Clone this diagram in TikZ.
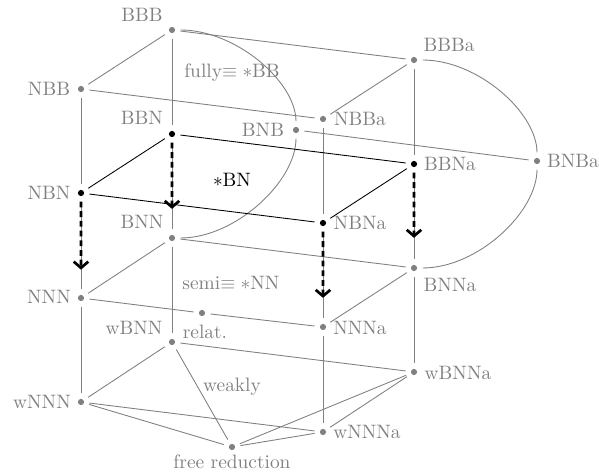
\documentclass[tikz,border=0pt]{standalone}
\usetikzlibrary{arrows.meta,calc}
\definecolor{soft}{gray}{0.5}
\begin{document}
\begin{tikzpicture}[x=0.5155pt,y=0.5155pt,
  dot/.style={circle,fill=soft,inner sep=0pt,minimum size=3.2pt,outer sep=2.8pt},
  bdot/.style={dot,fill=black},
  lbl/.style={text=soft,inner sep=0pt},
  blbl/.style={text=black,inner sep=0pt},
  gline/.style={draw=soft,line width=0.45pt},
  kline/.style={draw=black,line width=0.45pt},
  arcdown/.style={gline,out=0,in=90,out distance=28.5pt,in distance=20.5pt},
  arcback/.style={gline,out=-90,in=0,out distance=22pt,in distance=28.5pt},
  drop/.style={draw=black,line width=1.4pt,dash pattern=on 3pt off 2pt,
    -{Straight Barb[length=3.2pt,width=7.5pt]}}]
\useasboundingbox (0,0) rectangle (599,476);

% front cube
\node[dot]  (BBB)  at (172,446) {};
\node[dot]  (NBB)  at (81,387) {};
\node[bdot] (BBN)  at (172,342) {};
\node[dot]  (BNB)  at (296,346) {};
\node[bdot] (NBN)  at (81,283) {};
\node[dot]  (BNN)  at (172,238) {};
\node[dot]  (NNN)  at (81,178) {};
\node[dot]  (rel)  at (202,163) {};
\node[dot]  (wBNN) at (172,134) {};
\node[dot]  (wNNN) at (81,74) {};
\node[dot]  (free) at (232,29) {};
% shifted copy
\node[dot]  (BBBa)  at (414,416) {};
\node[dot]  (NBBa)  at (323,357) {};
\node[dot]  (BNBa)  at (537,315) {};
\node[bdot] (BBNa)  at (414,312) {};
\node[bdot] (NBNa)  at (323,253) {};
\node[dot]  (BNNa)  at (414,208) {};
\node[dot]  (NNNa)  at (323,149) {};
\node[dot]  (wBNNa) at (414,104) {};
\node[dot]  (wNNNa) at (323,44) {};

% labels
\node[lbl] (tBBB)  at (142,461) {BBB};
\node[lbl] (tNBB)  at (49,387) {NBB};
\node[lbl] (tBBN)  at (142,358) {BBN};
\node[lbl] (tBNB)  at (263,346) {BNB};
\node[lbl] (tNBN)  at (49,283) {NBN};
\node[lbl] (tBNN)  at (142,254) {BNN};
\node[lbl] (tNNN)  at (49,179) {NNN};
\node[lbl] (twBNN) at (134,148) {wBNN};
\node[lbl] (trel)  at (205,144) {relat.};
\node[lbl] (twNNN) at (42,74) {wNNN};
\node[lbl] (tfree) at (232,14) {free reduction};
\node[lbl] (tfully) at (232,403) {fully$\equiv *$BB};
\node[blbl] (tstar) at (232,296) {$*$BN};
\node[lbl] (tsemi) at (231,193) {semi$\equiv *$NN};
\node[lbl] (tweak) at (232,89) {weakly};
\node[lbl] (tBBBa)  at (449,431) {BBBa};
\node[lbl] (tNBBa)  at (360,357) {NBBa};
\node[lbl] (tBNBa)  at (573,315) {BNBa};
\node[lbl] (tBBNa)  at (450,312) {BBNa};
\node[lbl] (tNBNa)  at (360,253) {NBNa};
\node[lbl] (tBNNa)  at (450,191) {BNNa};
\node[lbl] (tNNNa)  at (360,148) {NNNa};
\node[lbl] (twBNNa) at (458,103) {wBNNa};
\node[lbl] (twNNNa) at (367,44) {wNNNa};

% grey connections
\draw[gline] (BBB) -- (NBB);
\draw[gline] (BBB) -- (BBN);
\draw[gline] (BBB) -- (BBBa);
\draw[arcdown] (BBB) to (BNB);
\draw[arcback] (BNB) to (BNN);
\draw[gline] (NBB) -- (NBN);
\draw[gline] (NBB) -- (NBBa);
\draw[gline] (BNB) -- (BNBa);
\draw[gline] (BBN) -- (BNN);
\draw[gline] (NBN) -- (NNN);
\draw[gline] (BNN) -- (NNN);
\draw[gline] (BNN) -- (BNNa);
\draw[gline] (BNN) -- (wBNN);
\draw[gline] (NNN) -- (rel);
\draw[gline] (rel) -- (NNNa);
\draw[gline] (NNN) -- (wNNN);
\draw[gline] (wBNN) -- (wNNN);
\draw[gline] (wBNN) -- (wBNNa);
\draw[gline] (wBNN) -- (free);
\draw[gline] (wNNN) -- (free);
\draw[gline] (wNNN) -- (wNNNa);
\draw[gline] (free) -- (wBNNa);
\draw[gline] (free) -- (wNNNa);
\draw[gline] (BBBa) -- (NBBa);
\draw[gline] (BBBa) -- (BBNa);
\draw[arcdown] (BBBa) to (BNBa);
\draw[arcback] (BNBa) to (BNNa);
\draw[gline] (NBBa) -- (NBNa);
\draw[gline] (BBNa) -- (BNNa);
\draw[gline] (NBNa) -- (NNNa);
\draw[gline] (BNNa) -- (NNNa);
\draw[gline] (BNNa) -- (wBNNa);
\draw[gline] (NNNa) -- (wNNNa);
\draw[gline] (wBNNa) -- (wNNNa);

% black square
\draw[kline] (BBN) -- (NBN);
\draw[kline] (BBN) -- (BBNa);
\draw[kline] (NBN) -- (NBNa);
\draw[kline] (NBNa) -- (BBNa);

% dashed drops
\coordinate (eBBN)  at ($(BBN)!0.72!(BNN)$);
\coordinate (eNBN)  at ($(NBN)!0.73!(NNN)$);
\coordinate (eBBNa) at ($(BBNa)!0.71!(BNNa)$);
\coordinate (eNBNa) at ($(NBNa)!0.72!(NNNa)$);
\draw[drop] (BBN) -- (eBBN);
\draw[drop] (NBN) -- (eNBN);
\draw[drop] (BBNa) -- (eBBNa);
\draw[drop] (NBNa) -- (eNBNa);
\end{tikzpicture}
\end{document}
